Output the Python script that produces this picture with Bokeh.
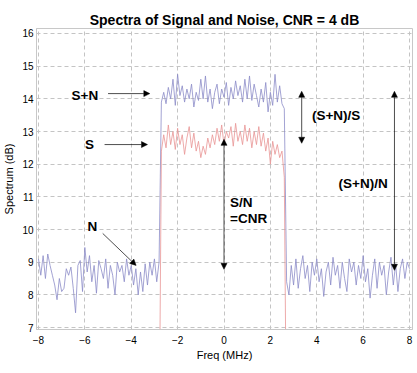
import numpy as np
from bokeh.plotting import figure
from bokeh.models import Label, Arrow, NormalHead, SingleIntervalTicker, Range1d
from bokeh.embed import file_html
from bokeh.resources import INLINE

# ---- data ----
freq_start = -8.0
freq_step = 0.1

noise_left_db = [9.1, 8.6, 9.2, 8.5, 9.25, 8.9, 8.6, 8.3, 7.85, 8.5,
                 8.1, 8.2, 8.8, 8.6, 8.85, 8.2, 7.45, 8.9, 9.05, 8.1,
                 9.45, 8.7, 9.2, 8.4, 8.9, 8.05, 9.05, 8.8, 8.5, 9.1,
                 8.2, 8.9, 8.6, 8.0, 9.0, 8.7, 8.9, 8.4, 9.1, 8.6,
                 8.9, 8.3, 8.8, 8.0, 8.7, 8.1, 8.95, 8.3, 9.0, 8.6,
                 9.1, 8.4, 9.0]
sn_band_db = [13.9,
              14.2, 13.85, 14.35, 14.0, 14.6, 13.8, 14.75, 14.1, 14.4, 13.9,
              14.3, 14.0, 14.45, 13.75, 14.2, 13.95, 14.6, 14.0, 14.7, 13.9,
              14.3, 13.7, 14.2, 14.45, 13.85, 14.3, 14.05, 14.5, 13.8, 14.35,
              14.0, 14.55, 14.1, 14.4, 13.9, 14.6, 14.0, 14.7, 13.95, 14.45,
              14.1, 13.75, 14.3, 13.9, 14.5, 13.6, 14.2, 13.8, 14.75, 13.9,
              14.4, 13.85,
              13.7]
noise_right_db = [8.4, 8.0, 8.9, 8.3, 9.1, 8.2, 8.8, 9.2, 8.5, 8.9,
                  8.1, 9.0, 8.6, 9.1, 8.4, 8.8, 7.95, 8.7, 9.0, 8.3,
                  9.15, 8.6, 8.9, 8.2, 9.0, 8.5, 8.1, 9.1, 8.7, 9.0,
                  8.3, 8.9, 8.5, 9.2, 8.4, 8.8, 7.9, 8.6, 9.1, 8.2,
                  9.0, 8.6, 8.9, 8.0, 8.7, 9.15, 8.3, 8.95, 8.1, 8.8,
                  9.1, 8.5, 9.0, 8.8]

signal_start = -2.8
signal_db = [3.0,
             12.4, 12.9, 12.5, 13.2, 12.6, 13.0, 12.45, 13.1, 12.6, 12.9,
             12.3, 12.8, 13.15, 12.5, 12.95, 12.4, 12.7, 12.2, 12.55, 12.3,
             12.8, 12.5, 12.9, 12.6, 13.1, 12.7, 13.2, 12.6, 13.0, 12.8,
             13.15, 12.55, 13.25, 12.7, 13.0, 12.6, 13.2, 12.7, 13.1, 12.5,
             13.0, 12.6, 13.15, 12.55, 12.95, 12.4, 12.8, 12.0, 12.7, 12.3,
             12.6, 12.2, 12.4, 11.6,
             3.0]

x_ticks_step = 2
y_ticks_step = 1

sn_db = noise_left_db + sn_band_db + noise_right_db
sn_freq = [round(freq_start + i * freq_step, 2) for i in range(len(sn_db))]
s_freq = [round(signal_start + i * freq_step, 2) for i in range(len(signal_db))]

FONT = "Liberation Sans"

p = figure(width=417, height=373, output_backend="svg", toolbar_location=None,
           x_range=Range1d(-8.085, 8.128), y_range=Range1d(6.939, 16.153),
           min_border_left=32, min_border_right=5, min_border_top=28, min_border_bottom=44,
           title="Spectra of Signal and Noise, CNR = 4 dB")
p.title.align = "center"
p.title.text_font = FONT
p.title.text_font_size = "14px"
p.title.text_font_style = "bold"
p.title.text_color = "black"
p.title.standoff = 2

p.background_fill_color = "white"
p.border_fill_color = "white"
p.outline_line_color = "#c8c8c8"
p.outline_line_width = 1

for ax in (p.xaxis[0], p.yaxis[0]):
    ax.axis_line_color = "#c8c8c8"
    ax.major_tick_out = 0
    ax.major_tick_in = 0
    ax.minor_tick_out = 0
    ax.minor_tick_in = 0
    ax.major_label_text_font = FONT
    ax.major_label_text_font_size = "10px"
    ax.major_label_text_color = "black"
    ax.axis_label_text_font = FONT
    ax.axis_label_text_font_size = "11px"
    ax.axis_label_text_font_style = "normal"
    ax.axis_label_text_color = "black"

p.xaxis.axis_label = "Freq (MHz)"
p.yaxis.axis_label = "Spectrum (dB)"
p.xaxis.ticker = SingleIntervalTicker(interval=x_ticks_step)
p.yaxis.ticker = SingleIntervalTicker(interval=y_ticks_step)
p.xaxis.major_label_standoff = 6
p.yaxis.major_label_standoff = 3
p.xaxis.axis_label_standoff = 2
p.yaxis.axis_label_standoff = 4
p.xgrid.ticker = SingleIntervalTicker(interval=x_ticks_step)
p.ygrid.ticker = SingleIntervalTicker(interval=y_ticks_step)
for g in (p.xgrid[0], p.ygrid[0]):
    g.grid_line_color = "#c4c4c4"
    g.grid_line_dash = "4 3"
    g.grid_line_width = 1

p.line(sn_freq, sn_db, line_color="#8c8cc8", line_width=0.8)
p.line(s_freq, signal_db, line_color="#e89494", line_width=0.8)

# arrows
def head():
    return NormalHead(size=6, fill_color="black", line_color="black", line_width=0.5)

arrows = [
    (-5.0, 14.16, -3.2, 14.16, False),
    (-5.15, 12.6, -3.3, 12.6, False),
    (-5.23, 9.88, -3.79, 8.9, False),
    (0.0, 8.78, 0.0, 12.76, True),
    (3.35, 12.64, 3.35, 14.23, True),
    (7.35, 8.75, 7.35, 14.23, True),
]
for x0, y0, x1, y1, both in arrows:
    p.add_layout(Arrow(x_start=x0, y_start=y0, x_end=x1, y_end=y1,
                       start=head() if both else None, end=head(),
                       line_color="black", line_width=0.7))

labels = [
    ("S+N", -6.0, 14.1, "center"),
    ("S", -5.8, 12.6, "center"),
    ("N", -5.68, 10.1, "center"),
    ("S/N", 0.26, 10.83, "left"),
    ("=CNR", 0.26, 10.34, "left"),
    ("(S+N)/S", 3.79, 13.49, "left"),
    ("(S+N)/N", 4.94, 11.41, "left"),
]
for t, x, y, al in labels:
    p.add_layout(Label(x=x, y=y, text=t, text_align=al, text_baseline="middle",
                       text_font=FONT, text_font_size="13.5px", text_font_style="bold",
                       text_color="black"))

open("out.html", "w").write(file_html(p, INLINE))
